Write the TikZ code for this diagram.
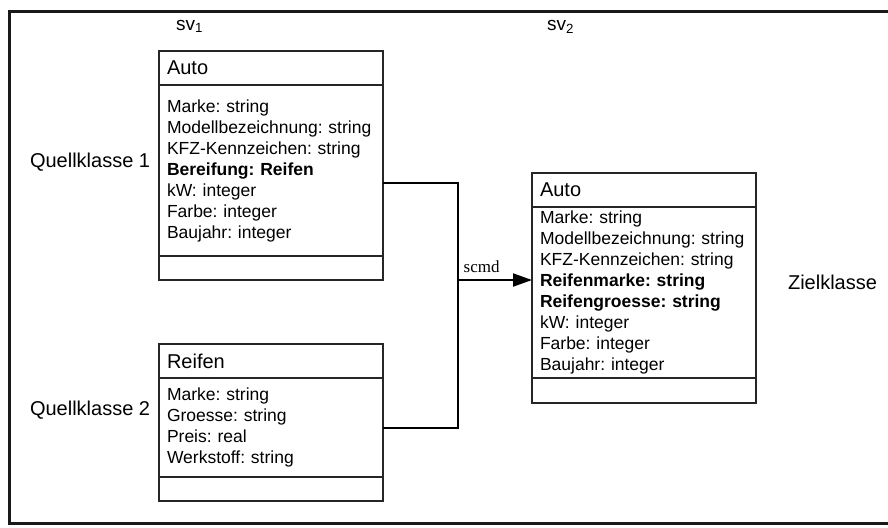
\documentclass[tikz,border=0pt]{standalone}
\usepackage{fontspec}
\setmainfont{Liberation Sans}
\newfontfamily\cmdfont{Liberation Serif}
\usetikzlibrary{positioning,arrows.meta}
\frenchspacing

\newcommand{\attrfont}{\fontsize{8.75}{10.5}\selectfont}
\newcommand{\titlefont}{\fontsize{10}{12}\selectfont}

\begin{document}
\begin{tikzpicture}[x=0.5pt, y=-0.5pt,
    clsbox/.style={draw=black!85, line width=0.6pt, outer sep=0pt, text width=104pt, inner xsep=4pt, inner ysep=1pt, align=left},
    clstitle/.style={clsbox, minimum height=17pt, font=\titlefont},
    clsattr/.style={clsbox, font=\attrfont},
    clsops/.style={clsbox, minimum height=12pt},
    side/.style={font=\titlefont},
    conn/.style={line width=1pt, black}]
    \useasboundingbox (0,0) rectangle (888,527);
    % Frame
    \draw[line width=1.2pt, black!90] (9.5,11.5) rectangle (895,523.5);

    % Source class 1
    \node[clstitle, anchor=north west] (srcAuto) at (159,51) {Auto};
    \node[clsattr, minimum height=85.5pt, below=0pt of srcAuto] (srcAutoAttr) {Marke: string\\Modellbezeichnung: string\\KFZ-Kennzeichen: string\\\textbf{Bereifung: Reifen}\\kW: integer\\Farbe: integer\\Baujahr: integer};
    \node[clsops, below=0pt of srcAutoAttr] (srcAutoOps) {};

    % Source class 2
    \node[clstitle, anchor=north west] (srcReifen) at (159,344) {Reifen};
    \node[clsattr, minimum height=49.5pt, below=0pt of srcReifen] (srcReifenAttr) {Marke: string\\Groesse: string\\Preis: real\\Werkstoff: string};
    \node[clsops, below=0pt of srcReifenAttr] (srcReifenOps) {};

    % Target class
    \node[clstitle, anchor=north west] (tgtAuto) at (532,173) {Auto};
    \node[clsattr, minimum height=85.5pt, below=0pt of tgtAuto] (tgtAutoAttr) {Marke: string\\Modellbezeichnung: string\\KFZ-Kennzeichen: string\\\textbf{Reifenmarke: string}\\\textbf{Reifengroesse: string}\\kW: integer\\Farbe: integer\\Baujahr: integer};
    \node[clsops, minimum height=12.5pt, below=0pt of tgtAutoAttr] (tgtAutoOps) {};

    % Labels
    \node[font=\fontsize{9.5}{11}\selectfont, anchor=base west] (sv1) at (169,30) {sv\textsubscript{1}};
    \node[font=\fontsize{9.5}{11}\selectfont, anchor=base west] (sv2) at (540,30) {sv\textsubscript{2}};
    \node[side, anchor=base west] (quelle1) at (23,167) {Quellklasse 1};
    \node[side, anchor=base west] (quelle2) at (23,415) {Quellklasse 2};
    \node[side, anchor=base west] (ziel) at (781,289) {Zielklasse};

    % Connectors
    \coordinate (join) at (458,280);
    \draw[conn] ([yshift=-6.25pt]srcAutoAttr.east) -| (join) |- (srcReifenAttr.east);
    \draw[conn, -{Triangle[length=9.5pt, width=6.5pt]}] (join) -- node[pos=0.32, above, font=\cmdfont\fontsize{8.5}{10}\selectfont] {scmd} (tgtAutoAttr.west |- join);
\end{tikzpicture}
\end{document}
